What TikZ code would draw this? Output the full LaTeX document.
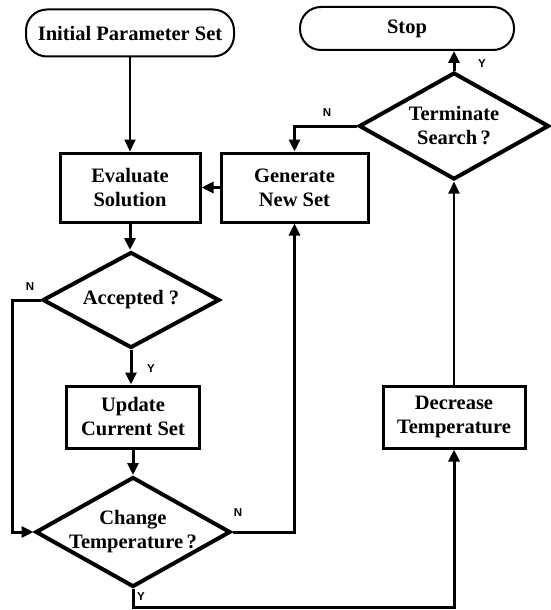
\documentclass[tikz,border=0pt]{standalone}
\usepackage{fontspec}
\setmainfont{Liberation Serif}
\newfontfamily\lblfont{Liberation Sans}
\usetikzlibrary{shapes.geometric,arrows.meta}
\tikzset{
  x=1pt,y=-1pt,
  txt/.style={font=\fontsize{20.5}{24}\selectfont\bfseries, align=center, inner sep=0pt},
  term/.style={txt, draw, line width=2pt, rounded corners=21pt},
  procbox/.style={txt, draw, line width=3pt},
  decision/.style={draw, diamond, line width=4pt, inner sep=0pt},
  arr/.style={line width=3pt, -{Triangle[length=12pt,width=11pt]}},
  thinarr/.style={line width=2pt, -{Triangle[length=12pt,width=11pt]}},
  yn/.style={font=\fontsize{11.5}{13}\selectfont\lblfont\bfseries, inner sep=0pt}
}
\begin{document}
\begin{tikzpicture}
\useasboundingbox (0,0) rectangle (550,610);
\node[term, minimum width=208pt, minimum height=47pt] (init) at (130,33) {Initial Parameter Set};
\node[term, minimum width=214pt, minimum height=43pt] (stop) at (407,28.5) {Stop};
\node[procbox, minimum width=140pt, minimum height=69pt] (eval) at (130,187.5) {Evaluate\\Solution};
\node[procbox, minimum width=147pt, minimum height=69pt] (gen) at (294.5,187.5) {Generate\\New Set};
\node[decision, minimum width=177pt, minimum height=96pt] (acc) at (131,300) {};
\node[txt] (acct) at (acc) {Accepted ?};
\node[procbox, minimum width=133pt, minimum height=62pt] (upd) at (133,417) {Update\\Current Set};
\node[decision, minimum width=195pt, minimum height=110pt] (chg) at (133,532) {};
\node[txt] (chgt) at (chg) {Change\\Temperature\,?};
\node[decision, minimum width=190pt, minimum height=107pt] (tsearch) at (454,126) {};
\node[txt] (tsearcht) at (tsearch) {Terminate\\Search\,?};
\node[procbox, minimum width=142pt, minimum height=62pt] (dec) at (454,417) {Decrease\\Temperature};

\coordinate (accL) at (12,300);
\coordinate (chgB) at (133,607);

\draw[thinarr] (init.south) -- (eval.north);
\draw[arr] (gen.west) -- (eval.east);
\draw[arr] (eval.south) -- (eval.south |- acc.north);
\draw[arr] (acc.west) -- (accL) |- (chg.west);
\draw[arr] (acc.south) -- (acc.south |- upd.north);
\draw[arr] (upd.south) -- (upd.south |- chg.north);
\draw[arr] (chg.east) -| (gen.south);
\draw[arr] (chg.south) -- (chgB) -| (dec.south);
\draw[thinarr] (dec.north) -- (tsearch.south);
\draw[arr] (tsearch.north) -- (tsearch.north |- stop.south);
\draw[arr] (tsearch.west) -| (gen.north);

\node[yn] (n1) at (30,287) {N};
\node[yn] (y1) at (151,369) {Y};
\node[yn] (n2) at (238,513) {N};
\node[yn] (y2) at (141,597) {Y};
\node[yn] (n3) at (327,113) {N};
\node[yn] (y3) at (482,64) {Y};
\end{tikzpicture}
\end{document}
